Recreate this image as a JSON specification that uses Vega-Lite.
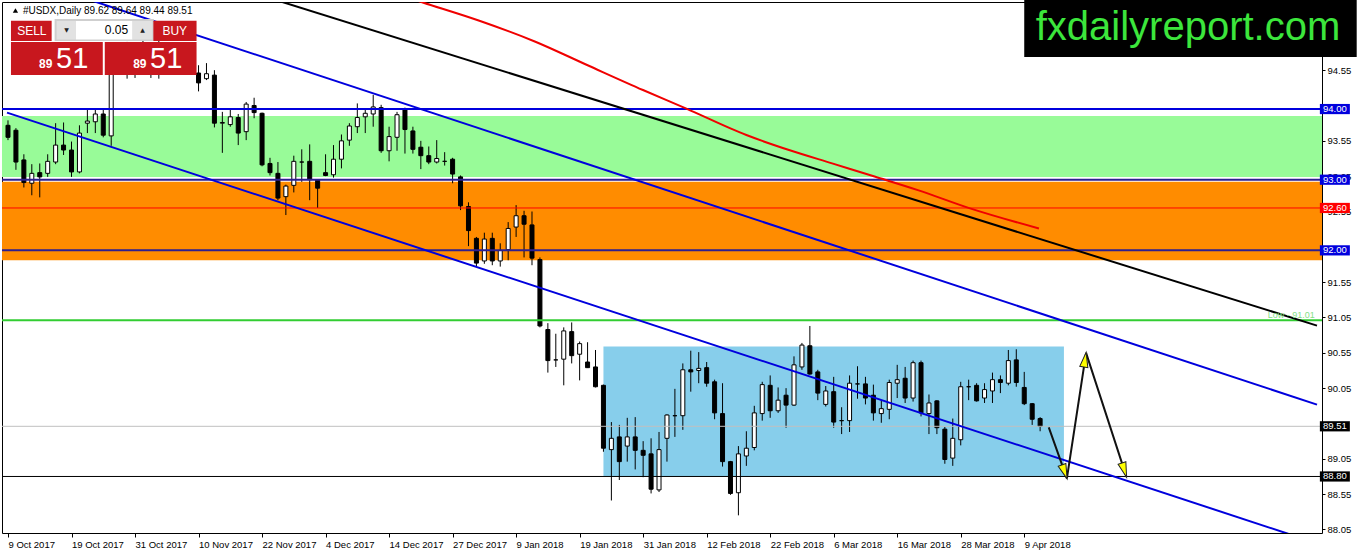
{
  "$schema": "https://vega.github.io/schema/vega-lite/v6.json",
  "description": "#USDX daily candles, Oct 2017 - Apr 2018, with channel, zones and projected path",
  "width": 1320,
  "height": 531,
  "autosize": {"type": "none"},
  "padding": {"left": 2, "top": 2, "right": 40, "bottom": 21},
  "background": "white",
  "config": {
    "view": {"stroke": "black", "strokeWidth": 1},
    "axis": {"labelFont": "Liberation Sans", "labelFontSize": 9.5, "labelColor": "black", "tickColor": "black", "grid": false, "domain": false},
    "text": {"font": "Liberation Sans"}
  },
  "datasets": {
    "candles": [
      {"i":0,"o":93.77,"h":93.84,"l":93.56,"c":93.60},
      {"i":1,"o":93.70,"h":93.73,"l":93.14,"c":93.25},
      {"i":2,"o":93.28,"h":93.36,"l":92.89,"c":92.96},
      {"i":3,"o":92.95,"h":93.22,"l":92.78,"c":93.09},
      {"i":4,"o":93.10,"h":93.23,"l":92.75,"c":93.04},
      {"i":5,"o":93.09,"h":93.36,"l":93.04,"c":93.26},
      {"i":6,"o":93.25,"h":93.80,"l":93.22,"c":93.49},
      {"i":7,"o":93.49,"h":93.81,"l":93.35,"c":93.42},
      {"i":8,"o":93.42,"h":93.54,"l":93.04,"c":93.11},
      {"i":9,"o":93.11,"h":93.77,"l":93.09,"c":93.66},
      {"i":10,"o":93.80,"h":93.99,"l":93.66,"c":93.83},
      {"i":11,"o":93.82,"h":93.99,"l":93.66,"c":93.93},
      {"i":12,"o":93.93,"h":94.00,"l":93.60,"c":93.63},
      {"i":13,"o":93.62,"h":94.75,"l":93.48,"c":94.60},
      {"i":14,"o":94.60,"h":94.85,"l":94.50,"c":94.72},
      {"i":15,"o":94.72,"h":94.95,"l":94.43,"c":94.62},
      {"i":16,"o":94.62,"h":94.88,"l":94.44,"c":94.78},
      {"i":17,"o":94.78,"h":95.05,"l":94.55,"c":94.68},
      {"i":18,"o":94.68,"h":94.92,"l":94.44,"c":94.82},
      {"i":19,"o":94.82,"h":94.98,"l":94.43,"c":94.62},
      {"i":20,"o":94.62,"h":94.86,"l":94.50,"c":94.72},
      {"i":21,"o":94.72,"h":94.90,"l":94.52,"c":94.64},
      {"i":22,"o":94.64,"h":94.82,"l":94.50,"c":94.60},
      {"i":23,"o":94.60,"h":94.76,"l":94.49,"c":94.55},
      {"i":24,"o":94.51,"h":94.62,"l":94.25,"c":94.37},
      {"i":25,"o":94.43,"h":94.65,"l":94.41,"c":94.50},
      {"i":26,"o":94.48,"h":94.55,"l":93.74,"c":93.80},
      {"i":27,"o":93.80,"h":93.96,"l":93.38,"c":93.81},
      {"i":28,"o":93.78,"h":93.99,"l":93.75,"c":93.89},
      {"i":29,"o":93.88,"h":93.93,"l":93.49,"c":93.66},
      {"i":30,"o":93.68,"h":94.10,"l":93.56,"c":94.07},
      {"i":31,"o":94.05,"h":94.16,"l":93.87,"c":93.95},
      {"i":32,"o":93.94,"h":93.95,"l":93.19,"c":93.21},
      {"i":33,"o":93.23,"h":93.31,"l":93.06,"c":93.10},
      {"i":34,"o":93.09,"h":93.25,"l":92.71,"c":92.74},
      {"i":35,"o":92.76,"h":92.93,"l":92.50,"c":92.91},
      {"i":36,"o":92.92,"h":93.34,"l":92.82,"c":93.26},
      {"i":37,"o":93.25,"h":93.43,"l":92.97,"c":93.25},
      {"i":38,"o":93.26,"h":93.50,"l":92.71,"c":93.00},
      {"i":39,"o":93.00,"h":93.01,"l":92.60,"c":92.88},
      {"i":40,"o":93.10,"h":93.36,"l":93.05,"c":93.06},
      {"i":41,"o":93.07,"h":93.49,"l":93.03,"c":93.29},
      {"i":42,"o":93.29,"h":93.64,"l":93.16,"c":93.55},
      {"i":43,"o":93.56,"h":93.80,"l":93.48,"c":93.76},
      {"i":44,"o":93.75,"h":94.08,"l":93.66,"c":93.88},
      {"i":45,"o":93.89,"h":94.01,"l":93.66,"c":93.94},
      {"i":46,"o":93.93,"h":94.20,"l":93.75,"c":94.03},
      {"i":47,"o":94.02,"h":94.06,"l":93.38,"c":93.41},
      {"i":48,"o":93.41,"h":93.75,"l":93.26,"c":93.61},
      {"i":49,"o":93.60,"h":93.96,"l":93.41,"c":93.92},
      {"i":50,"o":94.00,"h":94.02,"l":93.37,"c":93.71},
      {"i":51,"o":93.69,"h":93.75,"l":93.37,"c":93.43},
      {"i":52,"o":93.46,"h":93.55,"l":93.15,"c":93.34},
      {"i":53,"o":93.34,"h":93.47,"l":93.22,"c":93.25},
      {"i":54,"o":93.25,"h":93.56,"l":93.23,"c":93.30},
      {"i":55,"o":93.26,"h":93.39,"l":93.20,"c":93.26},
      {"i":56,"o":93.29,"h":93.31,"l":92.95,"c":93.08},
      {"i":57,"o":93.04,"h":93.06,"l":92.57,"c":92.63},
      {"i":58,"o":92.62,"h":92.68,"l":92.06,"c":92.28},
      {"i":59,"o":92.17,"h":92.19,"l":91.77,"c":91.82},
      {"i":60,"o":91.85,"h":92.25,"l":91.81,"c":92.16},
      {"i":61,"o":92.17,"h":92.25,"l":91.79,"c":91.85},
      {"i":62,"o":91.85,"h":92.10,"l":91.77,"c":92.00},
      {"i":63,"o":92.01,"h":92.40,"l":91.86,"c":92.31},
      {"i":64,"o":92.33,"h":92.64,"l":92.19,"c":92.49},
      {"i":65,"o":92.49,"h":92.56,"l":91.90,"c":92.37},
      {"i":66,"o":92.36,"h":92.55,"l":91.79,"c":91.89},
      {"i":67,"o":91.87,"h":91.90,"l":90.91,"c":90.93},
      {"i":68,"o":90.88,"h":90.97,"l":90.27,"c":90.44},
      {"i":69,"o":90.45,"h":90.82,"l":90.35,"c":90.45},
      {"i":70,"o":90.46,"h":90.91,"l":90.09,"c":90.86},
      {"i":71,"o":90.85,"h":90.98,"l":90.40,"c":90.51},
      {"i":72,"o":90.53,"h":90.71,"l":90.16,"c":90.68},
      {"i":73,"o":90.42,"h":90.70,"l":90.34,"c":90.34},
      {"i":74,"o":90.35,"h":90.59,"l":90.06,"c":90.07},
      {"i":75,"o":90.09,"h":90.10,"l":89.15,"c":89.20},
      {"i":76,"o":89.18,"h":89.57,"l":88.46,"c":89.34},
      {"i":77,"o":89.36,"h":89.53,"l":88.75,"c":89.01},
      {"i":78,"o":89.23,"h":89.63,"l":89.01,"c":89.36},
      {"i":79,"o":89.36,"h":89.64,"l":88.90,"c":89.17},
      {"i":80,"o":89.17,"h":89.30,"l":88.79,"c":89.10},
      {"i":81,"o":89.12,"h":89.34,"l":88.56,"c":88.62},
      {"i":82,"o":88.61,"h":89.43,"l":88.58,"c":89.18},
      {"i":83,"o":89.34,"h":89.68,"l":89.01,"c":89.67},
      {"i":84,"o":89.66,"h":90.04,"l":89.36,"c":89.66},
      {"i":85,"o":89.66,"h":90.40,"l":89.46,"c":90.31},
      {"i":86,"o":90.31,"h":90.58,"l":90.00,"c":90.28},
      {"i":87,"o":90.30,"h":90.56,"l":90.12,"c":90.33},
      {"i":88,"o":90.34,"h":90.42,"l":90.07,"c":90.12},
      {"i":89,"o":90.14,"h":90.17,"l":89.61,"c":89.70},
      {"i":90,"o":89.69,"h":90.12,"l":88.94,"c":89.01},
      {"i":91,"o":89.01,"h":89.02,"l":88.54,"c":88.56},
      {"i":92,"o":88.57,"h":89.23,"l":88.25,"c":89.12},
      {"i":93,"o":89.09,"h":89.44,"l":88.95,"c":89.20},
      {"i":94,"o":89.21,"h":89.80,"l":89.17,"c":89.70},
      {"i":95,"o":89.69,"h":90.14,"l":89.59,"c":90.10},
      {"i":96,"o":90.09,"h":90.23,"l":89.63,"c":89.73},
      {"i":97,"o":89.73,"h":90.06,"l":89.70,"c":89.88},
      {"i":98,"o":89.95,"h":90.05,"l":89.49,"c":89.81},
      {"i":99,"o":89.81,"h":90.50,"l":89.80,"c":90.38},
      {"i":100,"o":90.35,"h":90.69,"l":90.31,"c":90.66},
      {"i":101,"o":90.65,"h":90.93,"l":90.24,"c":90.25},
      {"i":102,"o":90.28,"h":90.31,"l":89.88,"c":89.98},
      {"i":103,"o":89.82,"h":90.08,"l":89.79,"c":90.01},
      {"i":104,"o":90.00,"h":90.21,"l":89.49,"c":89.57},
      {"i":105,"o":89.59,"h":89.78,"l":89.40,"c":89.59},
      {"i":106,"o":89.59,"h":90.23,"l":89.43,"c":90.12},
      {"i":107,"o":90.11,"h":90.36,"l":89.90,"c":90.11},
      {"i":108,"o":90.11,"h":90.21,"l":89.82,"c":89.91},
      {"i":109,"o":89.95,"h":90.10,"l":89.59,"c":89.70},
      {"i":110,"o":89.69,"h":89.88,"l":89.56,"c":89.76},
      {"i":111,"o":89.75,"h":90.17,"l":89.61,"c":90.13},
      {"i":112,"o":90.12,"h":90.38,"l":89.91,"c":90.17},
      {"i":113,"o":90.19,"h":90.35,"l":89.84,"c":89.91},
      {"i":114,"o":89.91,"h":90.44,"l":89.86,"c":90.41},
      {"i":115,"o":90.41,"h":90.44,"l":89.65,"c":89.70},
      {"i":116,"o":89.69,"h":89.96,"l":89.40,"c":89.84},
      {"i":117,"o":89.87,"h":89.88,"l":89.40,"c":89.49},
      {"i":118,"o":89.47,"h":89.50,"l":88.98,"c":89.04},
      {"i":119,"o":89.06,"h":89.62,"l":88.95,"c":89.34},
      {"i":120,"o":89.32,"h":90.14,"l":89.24,"c":90.07},
      {"i":121,"o":90.07,"h":90.17,"l":89.88,"c":90.07},
      {"i":122,"o":90.09,"h":90.12,"l":89.86,"c":89.87},
      {"i":123,"o":89.91,"h":90.12,"l":89.84,"c":90.03},
      {"i":124,"o":90.01,"h":90.27,"l":89.84,"c":90.17},
      {"i":125,"o":90.17,"h":90.23,"l":89.98,"c":90.13},
      {"i":126,"o":90.12,"h":90.59,"l":90.09,"c":90.44},
      {"i":127,"o":90.45,"h":90.60,"l":90.07,"c":90.13},
      {"i":128,"o":90.06,"h":90.28,"l":89.81,"c":89.83},
      {"i":129,"o":89.83,"h":89.84,"l":89.53,"c":89.61},
      {"i":130,"o":89.62,"h":89.64,"l":89.44,"c":89.51}
    ],
    "bands": [
      {"lo":93.04,"hi":93.90,"kind":"green"},
      {"lo":91.86,"hi":92.97,"kind":"orange"}
    ],
    "box": [{"i":75,"i2":133,"lo":88.80,"hi":90.64,"kind":"box"}],
    "levels": [
      {"p":94.00,"kind":"blue"},
      {"p":93.00,"kind":"navy"},
      {"p":92.00,"kind":"navy"},
      {"p":91.01,"kind":"lime"},
      {"p":92.60,"kind":"red"},
      {"p":89.51,"kind":"bid"},
      {"p":88.80,"kind":"black"}
    ],
    "trend": [
      {"name":"upper","kind":"blue","i":-0.125,"p":95.931},
      {"name":"upper","kind":"blue","i":164.875,"p":89.817},
      {"name":"lower","kind":"blue","i":-0.125,"p":93.95},
      {"name":"lower","kind":"blue","i":164.875,"p":87.855},
      {"name":"resist","kind":"black","i":33.375,"p":95.556},
      {"name":"resist","kind":"black","i":164.875,"p":90.935}
    ],
    "ma": [
      {"i":50,"p":95.59},
      {"i":52.34,"p":95.505},
      {"i":59.375,"p":95.25},
      {"i":66.43,"p":94.953},
      {"i":72.94,"p":94.623},
      {"i":79.98,"p":94.269},
      {"i":85.375,"p":94.01},
      {"i":93.0,"p":93.632},
      {"i":98.375,"p":93.42},
      {"i":103.8,"p":93.231},
      {"i":109.25,"p":93.042},
      {"i":114.6,"p":92.853},
      {"i":121.175,"p":92.594},
      {"i":129.85,"p":92.31}
    ],
    "arrow": [
      {"k":1,"i":131.09,"p":89.494},
      {"k":2,"i":133.375,"p":88.772},
      {"k":3,"i":135.79,"p":90.55},
      {"k":4,"i":140.875,"p":88.795}
    ],
    "heads": [
      {"i":133.08,"p":88.865,"deg":160},
      {"i":135.65,"p":90.453,"deg":9},
      {"i":140.6,"p":88.89,"deg":162}
    ],
    "badges": [
      {"p":94.00,"kind":"blue"},
      {"p":93.00,"kind":"blue"},
      {"p":92.60,"kind":"red"},
      {"p":92.00,"kind":"blue"},
      {"p":89.51,"kind":"black"},
      {"p":88.80,"kind":"black"}
    ],
    "prect": [
      {"kind":"frame","i":5.875,"i2":18.375,"p":94.963,"p2":95.274},
      {"kind":"btn","i":0.375,"i2":5.5,"p":94.963,"p2":95.25},
      {"kind":"btn","i":18.31,"i2":23.75,"p":94.963,"p2":95.25},
      {"kind":"spin","i":6.125,"i2":8.56,"p":94.984,"p2":95.246},
      {"kind":"input","i":8.56,"i2":15.69,"p":94.984,"p2":95.246},
      {"kind":"spin","i":15.69,"i2":18.19,"p":94.984,"p2":95.246},
      {"kind":"btn","i":0.375,"i2":11.94,"p":94.481,"p2":94.948},
      {"kind":"btn","i":12.19,"i2":23.75,"p":94.481,"p2":94.948}
    ],
    "ptext": [
      {"role":"head","i":1.875,"p":95.345,"t":"#USDX,Daily  89.62 89.64 89.44 89.51"},
      {"role":"btn","i":3.0,"p":95.104,"t":"SELL"},
      {"role":"btn","i":21.0,"p":95.104,"t":"BUY"},
      {"role":"qty","i":15.125,"p":95.118,"t":"0.05"},
      {"role":"spin","i":7.375,"p":95.118,"t":"▼"},
      {"role":"spin","i":16.94,"p":95.118,"t":"▲"},
      {"role":"small","i":5.6,"p":94.58,"t":"89"},
      {"role":"small","i":17.45,"p":94.58,"t":"89"},
      {"role":"big","i":6.05,"p":94.58,"t":"51"},
      {"role":"big","i":17.9,"p":94.58,"t":"51"}
    ],
    "logo": [{"i":128.0,"i2":169.875,"p":94.736,"p2":95.543,"cx":148.625,"base":94.977,"t":"fxdailyreport.com"}],
    "note": [{"i":164.6,"p":91.04,"t":"Low - 91.01"}],
    "mark": [{"i":0.94,"p":95.394}]
  },
  "layer": [
    {
      "data": {"name": "bands"},
      "mark": {"type": "rect"},
      "encoding": {
        "y": {"field": "lo", "type": "quantitative"},
        "y2": {"field": "hi"},
        "color": {
          "field": "kind", "type": "nominal", "legend": null,
          "scale": {
            "domain": ["green","orange","box","blue","navy","red","lime","bid","black","btn","spin","input","frame"],
            "range": ["#98fb98","#ff8c00","#87ceeb","#0000dd","#2d1f8f","#ff0000","#32cd32","#c0c0c0","#000000","#c8171e","#e2e2e2","#ffffff","#cfcfcf"]
          }
        }
      }
    },
    {
      "data": {"name": "box"},
      "mark": {"type": "rect"},
      "encoding": {
        "x": {"field": "i", "type": "quantitative"},
        "x2": {"field": "i2"},
        "y": {"field": "lo", "type": "quantitative"},
        "y2": {"field": "hi"},
        "color": {"field": "kind", "type": "nominal", "legend": null}
      }
    },
    {
      "data": {"name": "candles"},
      "mark": {"type": "rule", "color": "black", "strokeWidth": 1},
      "encoding": {
        "x": {
          "field": "i", "type": "quantitative", "title": null,
          "scale": {"domain": [-0.125, 164.875], "nice": false, "zero": false},
          "axis": {
            "orient": "bottom", "values": [0,8,16,24,32,40,48,56,64,72,80,88,96,104,112,120,128],
            "labelExpr": "['9 Oct 2017','19 Oct 2017','31 Oct 2017','10 Nov 2017','22 Nov 2017','4 Dec 2017','14 Dec 2017','27 Dec 2017','9 Jan 2018','19 Jan 2018','31 Jan 2018','12 Feb 2018','22 Feb 2018','6 Mar 2018','16 Mar 2018','28 Mar 2018','9 Apr 2018'][round(datum.value/8)]",
            "labelAlign": "left", "labelBaseline": "top", "labelPadding": 2, "tickSize": 4,
            "labelFlush": false, "labelOverlap": false, "labelBound": false
          }
        },
        "y": {
          "field": "l", "type": "quantitative", "title": null,
          "scale": {"domain": [88.0, 95.515], "nice": false, "zero": false},
          "axis": {
            "orient": "right", "values": [88.05,88.55,89.05,90.05,90.55,91.05,91.55,92.55,93.05,93.55,94.55],
            "format": ".2f", "tickSize": 3, "labelPadding": 2, "labelAlign": "left", "labelBaseline": "middle",
            "labelOverlap": false, "labelFlush": false, "labelBound": false
          }
        },
        "y2": {"field": "h"}
      }
    },
    {
      "data": {"name": "candles"},
      "mark": {"type": "bar", "size": 4, "stroke": "black", "strokeWidth": 1},
      "encoding": {
        "x": {"field": "i", "type": "quantitative"},
        "y": {"field": "o", "type": "quantitative"},
        "y2": {"field": "c"},
        "fill": {"condition": {"test": "datum.c >= datum.o", "value": "white"}, "value": "black"}
      }
    },
    {
      "data": {"name": "levels"},
      "transform": [{"filter": "indexof(['blue','navy','lime'], datum.kind) >= 0"}],
      "mark": {"type": "rule", "strokeWidth": 2},
      "encoding": {
        "y": {"field": "p", "type": "quantitative"},
        "color": {"field": "kind", "type": "nominal", "legend": null}
      }
    },
    {
      "data": {"name": "levels"},
      "transform": [{"filter": "indexof(['blue','navy','lime'], datum.kind) < 0"}],
      "mark": {"type": "rule", "strokeWidth": 1},
      "encoding": {
        "y": {"field": "p", "type": "quantitative"},
        "color": {"field": "kind", "type": "nominal", "legend": null}
      }
    },
    {
      "data": {"name": "trend"},
      "mark": {"type": "line", "strokeWidth": 2, "clip": true},
      "encoding": {
        "x": {"field": "i", "type": "quantitative"},
        "y": {"field": "p", "type": "quantitative"},
        "detail": {"field": "name", "type": "nominal"},
        "color": {"field": "kind", "type": "nominal", "legend": null}
      }
    },
    {
      "data": {"name": "ma"},
      "mark": {"type": "line", "strokeWidth": 2, "stroke": "#f00000", "clip": true, "interpolate": "monotone"},
      "encoding": {
        "x": {"field": "i", "type": "quantitative"},
        "y": {"field": "p", "type": "quantitative"}
      }
    },
    {
      "data": {"name": "arrow"},
      "mark": {"type": "line", "strokeWidth": 2, "stroke": "#111111"},
      "encoding": {
        "x": {"field": "i", "type": "quantitative"},
        "y": {"field": "p", "type": "quantitative"},
        "order": {"field": "k", "type": "quantitative"}
      }
    },
    {
      "data": {"name": "heads"},
      "mark": {"type": "point", "shape": "M0,-1L0.55,1L-0.55,1Z", "size": 220, "filled": true, "fill": "#ffff00", "stroke": "#222222", "strokeWidth": 1, "opacity": 1},
      "encoding": {
        "x": {"field": "i", "type": "quantitative"},
        "y": {"field": "p", "type": "quantitative"},
        "angle": {"field": "deg", "type": "quantitative", "scale": null}
      }
    },
    {
      "data": {"name": "note"},
      "mark": {"type": "text", "align": "right", "baseline": "alphabetic", "fontSize": 9, "color": "#86e086"},
      "encoding": {
        "x": {"field": "i", "type": "quantitative"},
        "y": {"field": "p", "type": "quantitative"},
        "text": {"field": "t"}
      }
    },
    {
      "data": {"name": "badges"},
      "mark": {"type": "point", "shape": "M-1,-0.34H1V0.34H-1Z", "size": 900, "filled": true, "opacity": 1},
      "encoding": {
        "x": {"datum": 167.125, "type": "quantitative"},
        "y": {"field": "p", "type": "quantitative"},
        "color": {"field": "kind", "type": "nominal", "legend": null}
      }
    },
    {
      "data": {"name": "badges"},
      "mark": {"type": "text", "align": "center", "baseline": "middle", "fontSize": 9.5, "color": "white"},
      "encoding": {
        "x": {"datum": 167.125, "type": "quantitative"},
        "y": {"field": "p", "type": "quantitative"},
        "text": {"field": "p", "type": "quantitative", "format": ".2f"}
      }
    },
    {
      "data": {"name": "logo"},
      "mark": {"type": "rect", "fill": "black"},
      "encoding": {
        "x": {"field": "i", "type": "quantitative"},
        "x2": {"field": "i2"},
        "y": {"field": "p", "type": "quantitative"},
        "y2": {"field": "p2"}
      }
    },
    {
      "data": {"name": "logo"},
      "mark": {"type": "text", "align": "center", "baseline": "alphabetic", "fontSize": 40, "color": "#3ce63c"},
      "encoding": {
        "x": {"field": "cx", "type": "quantitative"},
        "y": {"field": "base", "type": "quantitative"},
        "text": {"field": "t"}
      }
    },
    {
      "data": {"name": "prect"},
      "mark": {"type": "rect"},
      "encoding": {
        "x": {"field": "i", "type": "quantitative"},
        "x2": {"field": "i2"},
        "y": {"field": "p", "type": "quantitative"},
        "y2": {"field": "p2"},
        "color": {"field": "kind", "type": "nominal", "legend": null}
      }
    },
    {
      "data": {"name": "mark"},
      "mark": {"type": "point", "shape": "triangle-up", "size": 28, "filled": true, "color": "black", "opacity": 1},
      "encoding": {
        "x": {"field": "i", "type": "quantitative"},
        "y": {"field": "p", "type": "quantitative"}
      }
    },
    {
      "data": {"name": "ptext"},
      "transform": [{"filter": "datum.role == 'head'"}],
      "mark": {"type": "text", "align": "left", "baseline": "alphabetic", "fontSize": 10, "color": "black"},
      "encoding": {
        "x": {"field": "i", "type": "quantitative"},
        "y": {"field": "p", "type": "quantitative"},
        "text": {"field": "t"}
      }
    },
    {
      "data": {"name": "ptext"},
      "transform": [{"filter": "datum.role == 'btn'"}],
      "mark": {"type": "text", "align": "center", "baseline": "middle", "fontSize": 12, "color": "white"},
      "encoding": {
        "x": {"field": "i", "type": "quantitative"},
        "y": {"field": "p", "type": "quantitative"},
        "text": {"field": "t"}
      }
    },
    {
      "data": {"name": "ptext"},
      "transform": [{"filter": "datum.role == 'qty'"}],
      "mark": {"type": "text", "align": "right", "baseline": "middle", "fontSize": 12, "color": "black"},
      "encoding": {
        "x": {"field": "i", "type": "quantitative"},
        "y": {"field": "p", "type": "quantitative"},
        "text": {"field": "t"}
      }
    },
    {
      "data": {"name": "ptext"},
      "transform": [{"filter": "datum.role == 'spin'"}],
      "mark": {"type": "text", "align": "center", "baseline": "middle", "fontSize": 6, "font": "DejaVu Sans", "color": "#222222"},
      "encoding": {
        "x": {"field": "i", "type": "quantitative"},
        "y": {"field": "p", "type": "quantitative"},
        "text": {"field": "t"}
      }
    },
    {
      "data": {"name": "ptext"},
      "transform": [{"filter": "datum.role == 'small'"}],
      "mark": {"type": "text", "align": "right", "baseline": "alphabetic", "fontSize": 12, "fontWeight": "bold", "color": "white"},
      "encoding": {
        "x": {"field": "i", "type": "quantitative"},
        "y": {"field": "p", "type": "quantitative"},
        "text": {"field": "t"}
      }
    },
    {
      "data": {"name": "ptext"},
      "transform": [{"filter": "datum.role == 'big'"}],
      "mark": {"type": "text", "align": "left", "baseline": "alphabetic", "fontSize": 29, "color": "white"},
      "encoding": {
        "x": {"field": "i", "type": "quantitative"},
        "y": {"field": "p", "type": "quantitative"},
        "text": {"field": "t"}
      }
    }
  ]
}
